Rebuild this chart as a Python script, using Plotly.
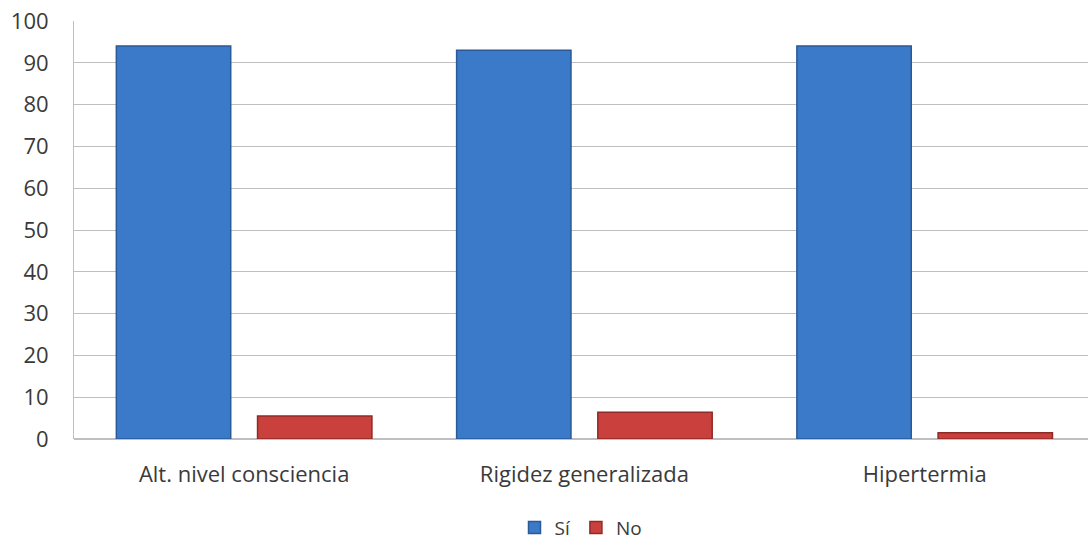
import plotly.graph_objects as go

categorias = ["Alt. nivel consciencia", "Rigidez generalizada", "Hipertermia"]
si_vals = [94, 93, 94]
no_vals = [5.5, 6.4, 1.5]

fig = go.Figure()
fig.add_trace(go.Bar(
    name="Sí", x=categorias, y=si_vals,
    marker=dict(color="#3B7AC9", line=dict(color="#2A5A97", width=1.5)),
))
fig.add_trace(go.Bar(
    name="No", x=categorias, y=no_vals,
    marker=dict(color="#C9403D", line=dict(color="#8E2A28", width=1.5)),
))

font_family = "Open Sans, Lato, sans-serif"
fig.update_layout(
    width=1088, height=544,
    margin=dict(l=74, r=0, t=21, b=105, autoexpand=False),
    paper_bgcolor="white", plot_bgcolor="white",
    barmode="group", bargap=0.17, bargroupgap=0.19,
    font=dict(family=font_family, size=21, color="#3A3A3A"),
    showlegend=True,
    legend=dict(orientation="h", x=0.5, xanchor="center", y=0.03, yref="container",
                yanchor="middle", font=dict(size=19, color="#3A3A3A"),
                itemwidth=30, traceorder="normal", tracegroupgap=0),
)
fig.update_xaxes(
    range=[-0.5, 2.48], showgrid=False, ticks="", showline=False,
    tickfont=dict(size=22, color="#3A3A3A"), ticklabelstandoff=20,
)
fig.update_yaxes(
    range=[0, 100], dtick=10, showgrid=True, gridcolor="#BFBFBF", gridwidth=1,
    showline=True, linecolor="#BFBFBF", linewidth=1, zeroline=True, zerolinecolor="#BFBFBF",
    ticks="", tickfont=dict(size=22, color="#3A3A3A"), ticklabelstandoff=20,
)

fig.write_html("out.html")
